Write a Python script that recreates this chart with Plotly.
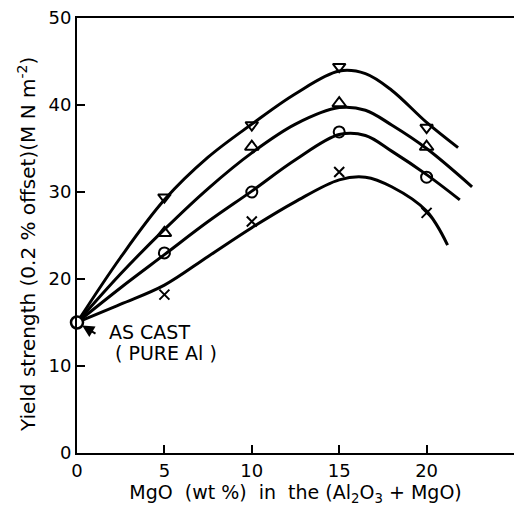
import plotly.graph_objects as go

# measured points
x_pts = [0, 5, 10, 15, 20]
y_down = [15, 29.4, 37.7, 44.4, 37.4]   # inverted triangles
y_up = [15, 25.3, 35.2, 40.2, 35.2]     # triangles
y_circ = [15, 23.0, 30.0, 36.9, 31.7]   # circles
y_x = [15, 18.2, 26.6, 32.3, 27.6]      # crosses

# fitted curves
cx_down = [0, 2.5, 5, 7.5, 10, 12.5, 15, 16.5, 18, 20, 21.8]
cy_down = [15, 22.5, 29.1, 34.0, 37.8, 41.3, 43.9, 43.6, 41.7, 38.0, 35.1]
cx_up = [0, 2.5, 5, 7.5, 10, 12.5, 15, 16.5, 18, 20, 22.6]
cy_up = [15, 20.6, 25.7, 30.4, 34.5, 37.8, 39.7, 39.4, 37.7, 35.0, 30.6]
cx_circ = [0, 2.5, 5, 7.5, 10, 12.5, 15, 16.5, 18, 20, 21.9]
cy_circ = [15, 19.0, 22.8, 26.6, 30.1, 33.7, 36.6, 36.5, 34.7, 32.0, 29.1]
cx_x = [0, 2.5, 5, 7.5, 10, 12.5, 15, 16.5, 18, 20, 21.2]
cy_x = [15, 17.1, 19.3, 22.6, 25.9, 28.9, 31.4, 31.7, 30.6, 27.8, 23.9]

x_ticks = [0, 5, 10, 15, 20]
y_ticks = [0, 10, 20, 30, 40, 50]

FONT = "DejaVu Sans"
NB = "\u00a0"

fig = go.Figure()
for cx, cy in [(cx_down, cy_down), (cx_up, cy_up), (cx_circ, cy_circ), (cx_x, cy_x)]:
    fig.add_trace(go.Scatter(x=cx, y=cy, mode="lines",
                             line=dict(color="black", width=3, shape="spline", smoothing=1.0),
                             showlegend=False, hoverinfo="skip"))

for ys, sym, sz in [(y_down, "triangle-down-open", 11), (y_up, "triangle-up-open", 12),
                    (y_circ, "circle-open", 11), (y_x, "x-thin-open", 10)]:
    fig.add_trace(go.Scatter(x=x_pts[1:], y=ys[1:], mode="markers",
                             marker=dict(symbol=sym, size=sz, color="black",
                                         line=dict(color="black", width=2)),
                             showlegend=False))

# as-cast point
fig.add_trace(go.Scatter(x=[x_pts[0]], y=[y_circ[0]], mode="markers",
                         marker=dict(symbol="circle", size=12, color="white",
                                     line=dict(color="black", width=2.5)),
                         showlegend=False, cliponaxis=False))

fig.add_annotation(x=x_pts[0], y=y_circ[0], ax=20, ay=12, axref="pixel", ayref="pixel",
                   text="", showarrow=True, arrowhead=2, arrowsize=1.2, arrowwidth=2,
                   arrowcolor="black", standoff=6)
fig.add_annotation(x=1.7, y=13.9, xref="x", yref="y", text="AS" + NB + "CAST", showarrow=False,
                   xanchor="left", font=dict(family=FONT, size=19, color="black"))
fig.add_annotation(x=2.05, y=11.5, xref="x", yref="y", text="(" + NB + "PURE" + NB + "Al" + NB + ")",
                   showarrow=False, xanchor="left", font=dict(family=FONT, size=19, color="black"))

fig.add_annotation(x=-50 / 437, y=0.478, xref="paper", yref="paper", xanchor="center", yanchor="middle",
                   text="Yield" + NB + "strength" + NB + "(0.2" + NB + "%" + NB + "offset)(M" + NB + "N"
                        + NB + "m<sup>-2</sup>)",
                   textangle=-90, showarrow=False, font=dict(family=FONT, size=20, color="black"))

xtitle = ("MgO" + NB * 2 + "(wt" + NB + "%)" + NB * 2 + "in" + NB * 2 + "the" + NB + "(Al<sub>2</sub>O<sub>3</sub>"
          + NB + "+" + NB + "MgO)")

fig.update_layout(
    width=514, height=507,
    margin=dict(l=77, r=0, t=18, b=54),
    paper_bgcolor="white", plot_bgcolor="white",
    font=dict(family=FONT, size=18, color="black"),
    xaxis=dict(range=[0, 25], tickvals=x_ticks, ticks="inside", ticklen=8, tickwidth=1.5,
               tickcolor="black", showline=True, linecolor="black", linewidth=2, mirror=True,
               showgrid=False, zeroline=False,
               title=dict(text=xtitle, standoff=6, font=dict(size=19))),
    yaxis=dict(range=[0, 50], tickvals=y_ticks, ticks="inside", ticklen=8, tickwidth=1.5,
               tickcolor="black", showline=True, linecolor="black", linewidth=2,
               showgrid=False, zeroline=False),
)

fig.write_html("out.html")
